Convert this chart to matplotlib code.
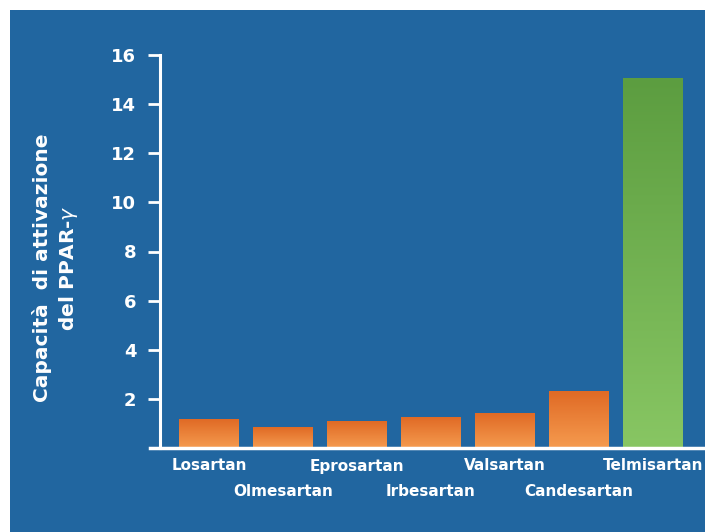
import numpy as np
import matplotlib.pyplot as plt
import matplotlib.colors as mcolors
from matplotlib.patches import Rectangle

# data
farmaci = ['Losartan', 'Olmesartan', 'Eprosartan', 'Irbesartan',
           'Valsartan', 'Candesartan', 'Telmisartan']
attivazione = [1.14, 0.85, 1.06, 1.26, 1.42, 2.32, 15.06]
yticks = [2, 4, 6, 8, 10, 12, 14, 16]

sfondo = '#2166a0'
arancio = ('#e06a25', '#f59b4f')   # top, bottom
verde = ('#5c9d40', '#88c663')

fig = plt.figure(figsize=(7.05, 5.32), dpi=100, facecolor='white')
# blue panel, white strip on top and left
fig.patches.append(Rectangle((10/705, 0), 695/705, 522/532,
                             transform=fig.transFigure, facecolor=sfondo,
                             edgecolor='none', zorder=-10))

ax = fig.add_axes([150/705, 1 - 448/532, 1 - 150/705, (448 - 55)/532])
ax.set_facecolor('none')

x = np.arange(len(farmaci))
w = 60/74
bars = ax.bar(x, attivazione, width=w, color='none')

# vertical gradient for every bar
for i, (b, v) in enumerate(zip(bars, attivazione)):
    top, bot = verde if i == len(farmaci) - 1 else arancio
    cmap = mcolors.LinearSegmentedColormap.from_list('g', [bot, top])
    grad = np.linspace(0, 1, 256).reshape(-1, 1)
    x0 = b.get_x()
    ax.imshow(grad, cmap=cmap, origin='lower', aspect='auto',
              extent=(x0, x0 + b.get_width(), 0, v), zorder=2)

ax.set_xlim((150 - 209)/74, (705 - 209)/74)
ax.set_ylim(0, 16)

for s in ['top', 'right']:
    ax.spines[s].set_visible(False)
ax.spines['left'].set_position(('data', (160 - 209)/74))
ax.spines['left'].set_bounds(0, 16)
ax.spines['left'].set_color('white')
ax.spines['left'].set_linewidth(2.2)
ax.spines['bottom'].set_color('white')
ax.spines['bottom'].set_linewidth(2.5)
ax.spines['bottom'].set_zorder(3)

ax.set_yticks(yticks)
ax.set_yticklabels([str(t) for t in yticks], color='white',
                   fontweight='bold', fontsize=13)
ax.tick_params(axis='y', length=9, width=2, color='white', pad=8)
ax.tick_params(axis='x', length=0)
ax.set_xticks([])

# staggered category labels
for i, nome in enumerate(farmaci):
    yy = -18 if i % 2 == 0 else -44
    ax.annotate(nome, (x[i], 0), xytext=(0, yy), textcoords='offset pixels',
                ha='center', va='center', color='white',
                fontweight='bold', fontsize=11)

fig.text(56/705, 1 - 268/532, 'Capacità  di attivazione\ndel PPAR-$\\gamma$',
         rotation=90, ha='center', va='center', color='white',
         fontweight='bold', fontsize=14.5, linespacing=1.3)

fig.savefig('out.png', dpi=100, facecolor='white')
